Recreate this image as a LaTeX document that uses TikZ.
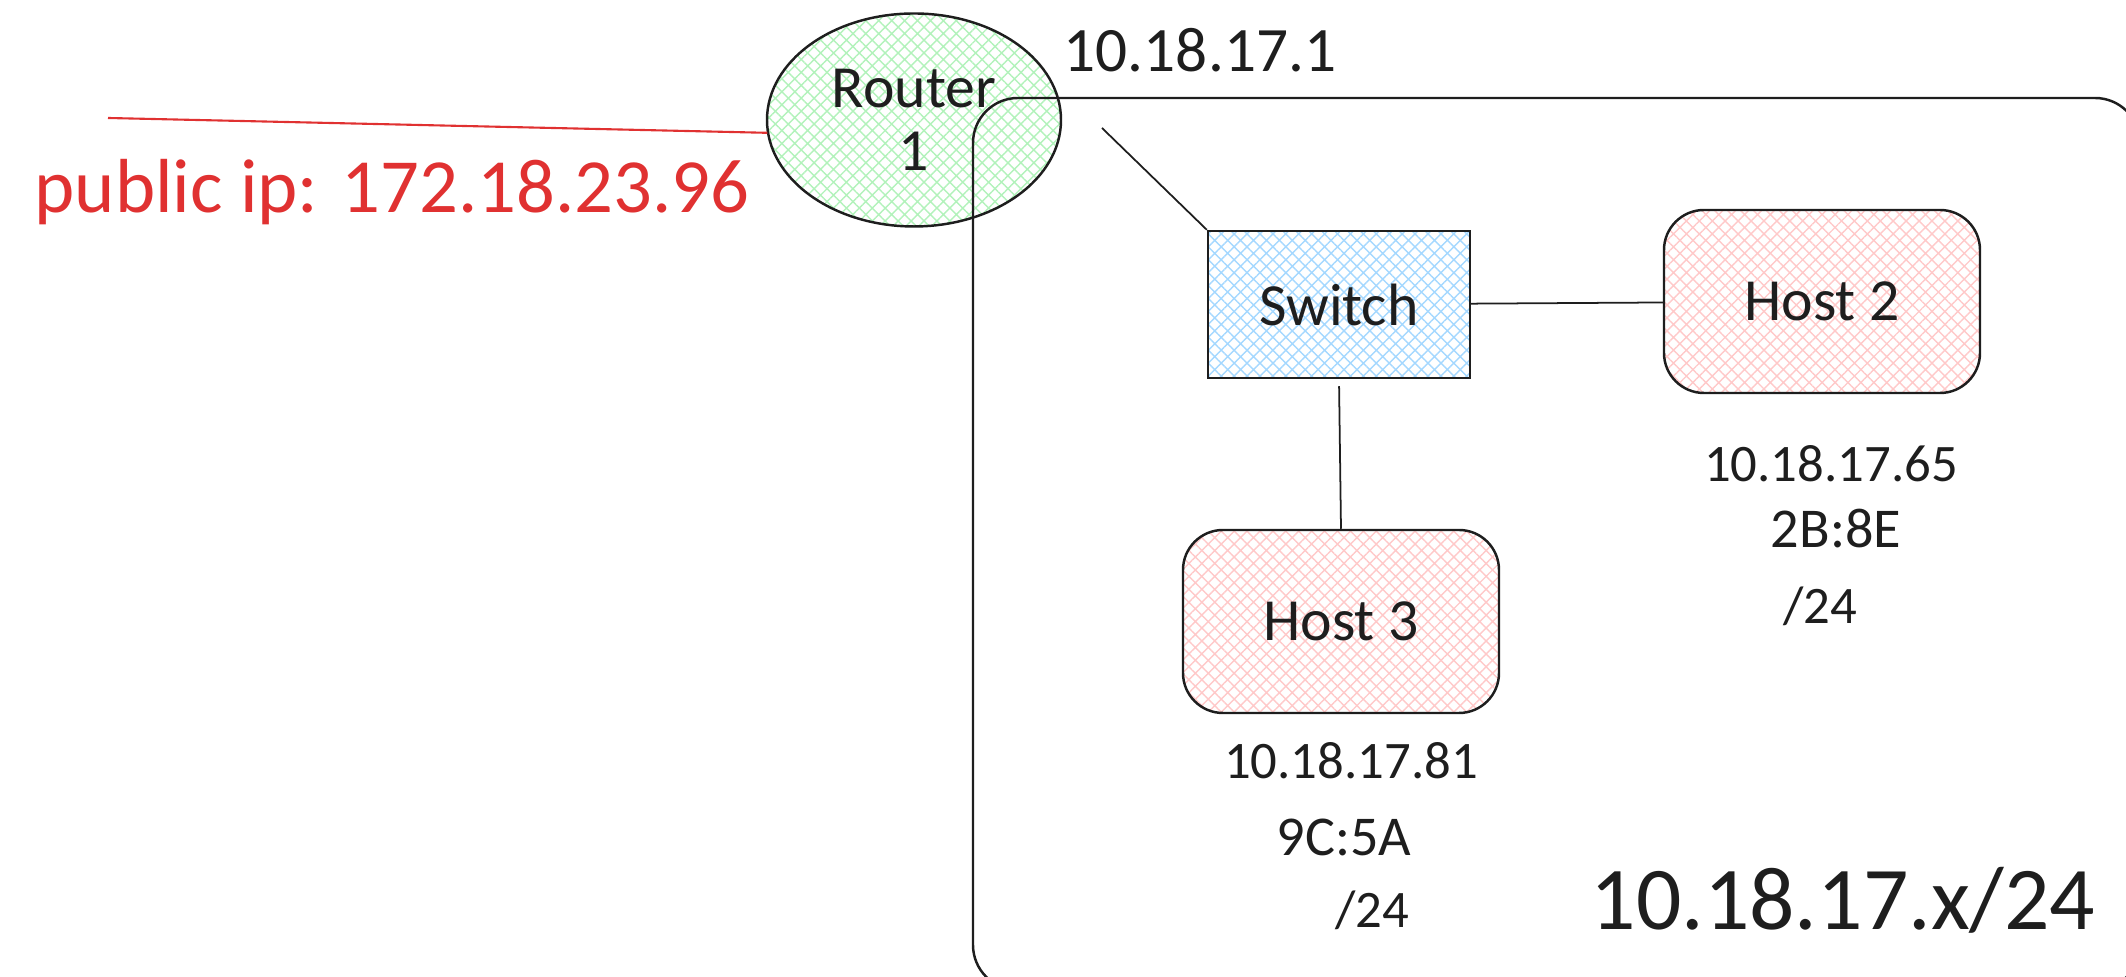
\documentclass[tikz,border=0pt]{standalone}
\usepackage{fontspec}
\setmainfont{Carlito}
\usepackage{tikz}
\usetikzlibrary{shapes.geometric,patterns.meta}

\definecolor{ink}{HTML}{1E1E1E}
\definecolor{wanred}{HTML}{E03131}
\definecolor{routerfill}{HTML}{B2F2BB}
\definecolor{switchfill}{HTML}{A5D8FF}
\definecolor{hostfill}{HTML}{FFC9C9}

\tikzset{
  hatched/.style={pattern={Hatch[angle=45,distance=2.6pt,line width=0.4pt]}, pattern color=#1},
  device/.style={draw=ink, line width=0.7pt, inner sep=0pt, text=ink, font=\fontsize{17}{20}\selectfont},
  host/.style={device, hatched=hostfill, rounded corners=0.4cm, minimum width=3.16cm, minimum height=1.83cm},
  addr/.style={text=ink, inner sep=0pt, anchor=base, font=\fontsize{15}{18}\selectfont},
  wire/.style={draw=ink, line width=0.5pt},
}

\begin{document}
\begin{tikzpicture}
\useasboundingbox (0,0) rectangle (21.26,-9.77);
\clip (0,0) rectangle (21.26,-9.77);

\node[device, ellipse, hatched=routerfill, minimum width=2.94cm, minimum height=2.13cm, align=center, font=\fontsize{17}{18}\selectfont] (router) at (9.14,-1.20) {Router\\1};
\node[device, hatched=switchfill, minimum width=2.62cm, minimum height=1.47cm] (switch) at (13.39,-3.045) {Switch};
\node[host] (host2) at (18.22,-3.015) {Host 2};
\node[host] (host3) at (13.41,-6.215) {Host 3};

\draw[ink, line width=0.7pt, rounded corners=0.45cm] (9.73,-0.98) rectangle (21.40,-9.90);

\coordinate (wan) at (1.08,-1.18);
\coordinate (rport) at (11.02,-1.28);
\draw[wanred, line width=0.6pt] (wan) -- (router.185);
\draw[wire] (rport) -- (switch.north west);
\draw[wire] (switch) -- (host2);
\draw[wire, shorten <=2pt] (switch.south) -- (host3.north);

\node[addr, font=\fontsize{18}{20}\selectfont] (gwip) at (12.00,-0.72) {10.18.17.1};
\node[addr, anchor=base west, text=wanred, font=\fontsize{21.8}{24}\selectfont] (wanip) at (0.34,-2.13) {public ip: 172.18.23.96};

\node[addr] (h2ip) at (18.31,-4.82) {10.18.17.65};
\node[addr, font=\fontsize{16}{18}\selectfont] (h2mac) at (18.36,-5.48) {2B:8E};
\node[addr] (h2mask) at (18.20,-6.24) {/24};

\node[addr] (h3ip) at (13.51,-7.79) {10.18.17.81};
\node[addr, font=\fontsize{16}{18}\selectfont] (h3mac) at (13.44,-8.56) {9C:5A};
\node[addr] (h3mask) at (13.72,-9.28) {/24};

\node[addr, font=\fontsize{25.5}{28}\selectfont] (subnet) at (18.43,-9.30) {10.18.17.x/24};
\end{tikzpicture}
\end{document}
